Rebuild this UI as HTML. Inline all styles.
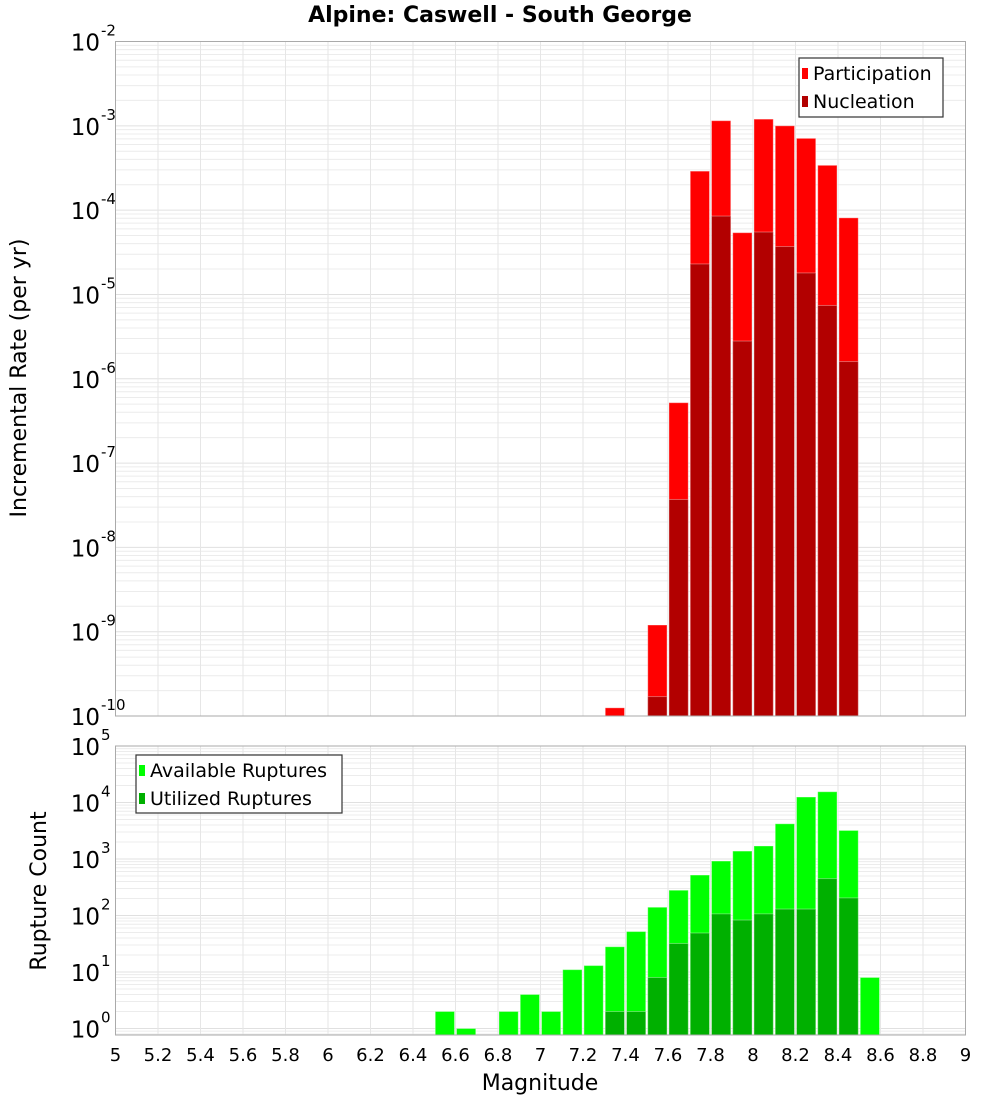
<!DOCTYPE html>
<html><head><meta charset="utf-8"><style>
html,body{margin:0;padding:0;background:#fff}
svg{display:block;font-family:"DejaVu Sans","Liberation Sans",sans-serif}
</style></head><body>
<svg id="chart" width="1000" height="1100" viewBox="0 0 1000 1100" xmlns="http://www.w3.org/2000/svg">
<text x="500" y="22" text-anchor="middle" font-size="22" font-weight="bold">Alpine: Caswell - South George</text>
<g id="top"></g><g id="bot"></g>
<text transform="translate(26,378) rotate(-90)" text-anchor="middle" font-size="22">Incremental Rate (per yr)</text>
<text transform="translate(46,891) rotate(-90)" text-anchor="middle" font-size="22">Rupture Count</text>
<text x="540" y="1090" text-anchor="middle" font-size="22">Magnitude</text>
</svg>
<script>
const binStarts=[7.3,7.5,7.6,7.7,7.8,7.9,8.0,8.1,8.2,8.3,8.4];
const participation=[1.25e-10,1.2e-9,5.2e-7,2.9e-4,1.15e-3,5.4e-5,1.2e-3,1.0e-3,7.1e-4,3.4e-4,8.1e-5];
const nucleation=[0,1.7e-10,3.7e-8,2.3e-5,8.5e-5,2.8e-6,5.5e-5,3.7e-5,1.8e-5,7.4e-6,1.6e-6];
const countBins=[6.5,6.6,6.8,6.9,7.0,7.1,7.2,7.3,7.4,7.5,7.6,7.7,7.8,7.9,8.0,8.1,8.2,8.3,8.4,8.5];
const available=[2,1,2,4,2,11,13,28,52,140,280,520,920,1380,1700,4200,12500,15500,3200,8];
const utilized=[0,0,0,0,0,0,0,2,2,8,32,49,107,83,107,130,130,450,205,0];
const xTicks=["5","5.2","5.4","5.6","5.8","6","6.2","6.4","6.6","6.8","7","7.2","7.4","7.6","7.8","8","8.2","8.4","8.6","8.8","9"];
const topExps=[-2,-3,-4,-5,-6,-7,-8,-9,-10];
const botExps=[5,4,3,2,1,0];

const NS="http://www.w3.org/2000/svg";
const L=115.5,R=965.5;
const X=v=>L+(v-5)/4*(R-L);
const T0=41.5,T1=716,B0=746,B1=1035;
const yTop=v=>T0+(-2-Math.log10(v))*(T1-T0)/8;
const yBot=v=>B0+(5-Math.log10(v))*56.5;
function mk(parent,tag,attrs){const e=document.createElementNS(NS,tag);for(const k in attrs)e.setAttribute(k,attrs[k]);parent.appendChild(e);return e;}

function panel(g,top,bot,yf,exps,minExp){
  const bg=mk(g,'rect',{x:L,y:top,width:R-L,height:bot-top,fill:'#fff'});
  
  
  for(let e=minExp;e<exps[0];e++){for(let m=1;m<10;m++){const y=yf(m*Math.pow(10,e));if(y<top||y>bot)continue;
    const ln=mk(g,'line',{x1:L,x2:R,y1:y,y2:y,stroke:m==1?'#e0e0e0':'#ececec','stroke-width':1});
    
    }}
  xTicks.forEach(t=>{const x=X(+t);const ln=mk(g,'line',{x1:x,x2:x,y1:top,y2:bot,stroke:'#e6e6e6','stroke-width':1});
    
    });
  exps.forEach(e=>{const y=yf(Math.pow(10,e));const t=mk(g,'text',{x:100,y:y+9,'text-anchor':'end','font-size':23});t.textContent='10';
    
    
    const s=mk(g,'text',{x:101,y:y-6,'font-size':15});s.textContent=String(e).replace('-','-');
    
    });
}
function frame(g,top,bot){const f=mk(g,'rect',{x:L,y:top,width:R-L,height:bot-top,fill:'none',stroke:'#aaa','stroke-width':1});
  
  }
function bar(g,x0,v,yf,bot,fill,name){if(!v)return;const xa=X(x0)+1,xb=X(x0+0.1)-1;const y=Math.max(yf(v),0);
  const r=mk(g,'rect',{x:xa,y:y,width:xb-xa,height:bot-y,fill:fill,stroke:'rgba(255,255,255,0.35)','stroke-width':1});
  
  }

const gt=document.getElementById('top');
panel(gt,T0,T1,yTop,topExps,-10);
binStarts.forEach((b,i)=>bar(gt,b,participation[i],yTop,T1,'#ff0000','participation-bar'));
binStarts.forEach((b,i)=>bar(gt,b,nucleation[i],yTop,T1,'#b20000','nucleation-bar'));
frame(gt,T0,T1);

const gb=document.getElementById('bot');
panel(gb,B0,B1,yBot,botExps,-1);
countBins.forEach((b,i)=>bar(gb,b,available[i],yBot,B1,'#00ff00','available-bar'));
countBins.forEach((b,i)=>bar(gb,b,utilized[i],yBot,B1,'#00b000','utilized-bar'));
frame(gb,B0,B1);
xTicks.forEach(t=>{const tx=mk(gb,'text',{x:X(+t),y:1061,'text-anchor':'middle','font-size':18});tx.textContent=t;
  
  });

function legend(g,x,y,w,h,items){const lg=mk(g,'g',{});
  
  
  mk(lg,'rect',{x:x,y:y,width:w,height:h,fill:'#fff',stroke:'#333','stroke-width':1.2});
  items.forEach((it,i)=>{const cy=y+15+i*28;
    const sw=mk(lg,'rect',{x:x+3,y:cy-5,width:6,height:11,fill:it[1]});
    
    
    const t=mk(lg,'text',{x:x+14,y:cy+7,'font-size':19});t.textContent=it[0];
    
    });}
legend(gt,799,58,144,59,[['Participation','#ff0000'],['Nucleation','#b20000']]);
legend(gb,136,755,206,58,[['Available Ruptures','#00ff00'],['Utilized Ruptures','#00b000']]);
</script>
</body></html>
